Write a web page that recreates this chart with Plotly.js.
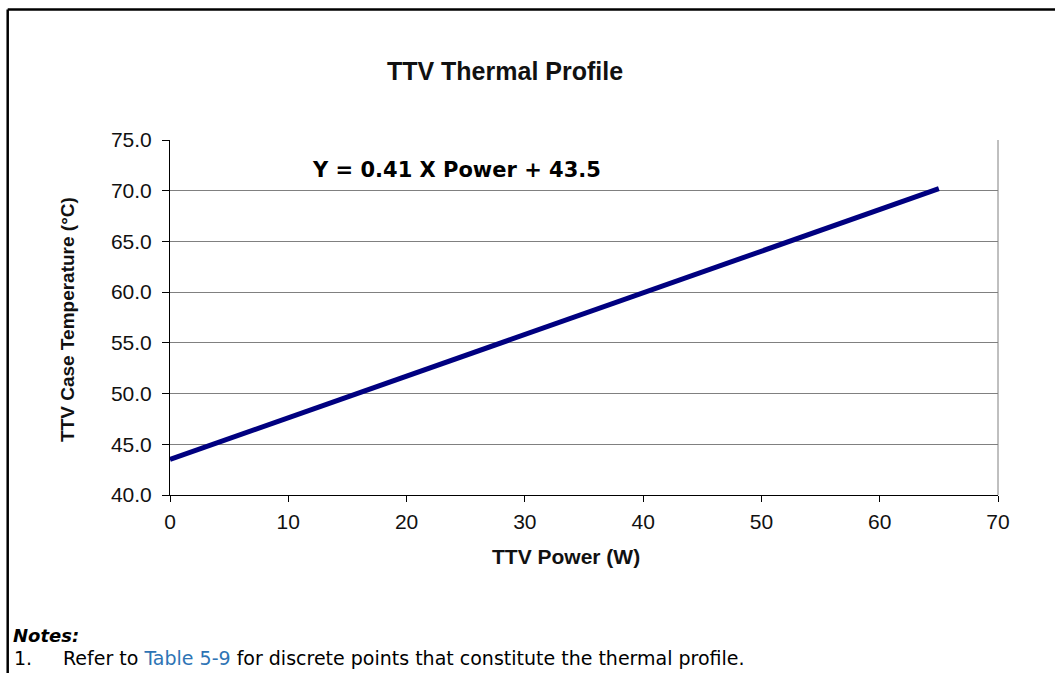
<!DOCTYPE html>
<html>
<head>
<meta charset="utf-8">
<script src="https://cdn.plot.ly/plotly-3.0.1.min.js"></script>
<style>
  html, body { margin: 0; padding: 0; background: #ffffff; }
  #chart { width: 1055px; height: 673px; }
</style>
</head>
<body>
<div id="chart"></div>
<script>
// Data
const powerW = [0, 10, 20, 30, 40, 50, 60, 65];
const caseTempC = [43.5, 47.6, 51.7, 55.8, 59.9, 64.0, 68.1, 70.2];
const xTickVals = [0, 10, 20, 30, 40, 50, 60, 70];
const yTickVals = [40, 45, 50, 55, 60, 65, 70, 75];
const yTickText = ["40.0", "45.0", "50.0", "55.0", "60.0", "65.0", "70.0", "75.0"];

const chartTitle = "TTV Thermal Profile";
const xTitle = "TTV Power (W)";
const yTitle = "TTV Case Temperature (°C)";
const equationText = "Y = 0.41 X Power + 43.5";
const notesHeading = "Notes:";
const noteNumber = "1.";
const noteText = "Refer to <span style='color:#2e74b5'>Table 5-9</span> for discrete points that constitute the thermal profile.";

const W = 1055, H = 673;
const M = { l: 170, r: 57, t: 140, b: 178 };
const PW = W - M.l - M.r, PH = H - M.t - M.b;
const px = x => (x - M.l) / PW;          // page px -> paper x
const py = y => (H - M.b - y) / PH;      // page px -> paper y

const arial = "Liberation Sans, Arial, sans-serif";
const verdana = "DejaVu Sans, Verdana, sans-serif";

const trace = {
  x: powerW,
  y: caseTempC,
  type: "scatter",
  mode: "lines",
  line: { color: "#000080", width: 5 },
  hoverinfo: "x+y",
  showlegend: false
};

const layout = {
  width: W,
  height: H,
  margin: M,
  paper_bgcolor: "#ffffff",
  plot_bgcolor: "#ffffff",
  showlegend: false,
  title: {
    text: "<b>" + chartTitle + "</b>",
    font: { family: arial, size: 25, color: "#111111" },
    x: 505 / W, xanchor: "center", xref: "container",
    y: 1 - 71 / H, yanchor: "middle", yref: "container"
  },
  xaxis: {
    range: [0, 70],
    tickmode: "array",
    tickvals: xTickVals,
    ticks: "outside",
    ticklen: 6,
    tickcolor: "#000000",
    ticklabelstandoff: 2,
    tickfont: { family: arial, size: 21, color: "#111111" },
    showline: true,
    linecolor: "#000000",
    linewidth: 1,
    showgrid: false,
    zeroline: false,
    fixedrange: true
  },
  yaxis: {
    range: [40, 75],
    tickmode: "array",
    tickvals: yTickVals,
    ticktext: yTickText,
    ticks: "outside",
    ticklen: 7,
    tickcolor: "#000000",
    ticklabelstandoff: 6,
    tickfont: { family: arial, size: 21, color: "#111111" },
    showline: true,
    linecolor: "#000000",
    linewidth: 1,
    showgrid: true,
    gridcolor: "#808080",
    gridwidth: 1,
    zeroline: false,
    fixedrange: true
  },
  shapes: [
    // right border of the plot area
    { type: "line", xref: "paper", yref: "paper", x0: 1, x1: 1, y0: 0, y1: 1,
      line: { color: "#808080", width: 1 } },
    // outer frame (top and left edges visible)
    { type: "line", xref: "paper", yref: "paper", x0: px(7.7), x1: px(1070), y0: py(9.5), y1: py(9.5),
      line: { color: "#000000", width: 2.5 } },
    { type: "line", xref: "paper", yref: "paper", x0: px(7.7), x1: px(7.7), y0: py(9.5), y1: py(690),
      line: { color: "#000000", width: 2.5 } }
  ],
  annotations: [
    { text: "<b>" + equationText + "</b>", xref: "paper", yref: "paper",
      x: px(456), y: py(170), xanchor: "center", yanchor: "middle", showarrow: false,
      font: { family: verdana, size: 21, color: "#000000" } },
    { text: "<b>" + xTitle + "</b>", xref: "paper", yref: "paper",
      x: px(566), y: py(556), xanchor: "center", yanchor: "middle", showarrow: false,
      font: { family: arial, size: 21, color: "#111111" } },
    { text: "<b>" + yTitle + "</b>", xref: "paper", yref: "paper",
      x: px(67), y: py(320), xanchor: "center", yanchor: "middle", textangle: -90, showarrow: false,
      font: { family: arial, size: 19, color: "#111111" } },
    { text: "<b><i>" + notesHeading + "</i></b>", xref: "paper", yref: "paper",
      x: px(11), y: py(635), xanchor: "left", yanchor: "middle", showarrow: false,
      font: { family: verdana, size: 18, color: "#000000" } },
    { text: noteNumber, xref: "paper", yref: "paper",
      x: px(12), y: py(658), xanchor: "left", yanchor: "middle", showarrow: false,
      font: { family: verdana, size: 19, color: "#000000" } },
    { text: noteText, xref: "paper", yref: "paper",
      x: px(61), y: py(658), xanchor: "left", yanchor: "middle", showarrow: false,
      font: { family: verdana, size: 19, color: "#000000" } }
  ]
};

Plotly.newPlot("chart", [trace], layout, { displayModeBar: false, staticPlot: true });
</script>
</body>
</html>
